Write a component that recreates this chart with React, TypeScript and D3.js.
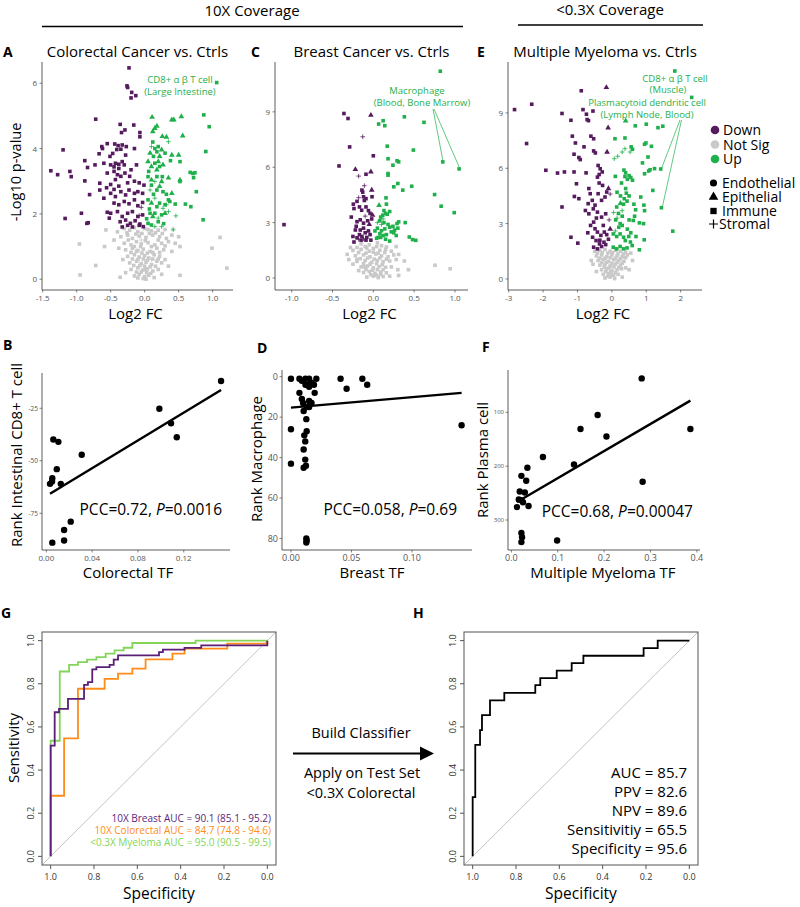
import React from 'react'
import * as d3 from 'd3'

const FONT = "'Open Sans', 'DejaVu Sans', sans-serif"
const DOWN = '#561a5e'
const UP = '#1fb04b'
const NS = '#c9c9c9'
const PURPLE = '#5b1f78'
const ORANGE = '#ff8c1a'
const LGREEN = '#83d55a'

// volcano points: [log2 FC, -log10 p, cell type]  s=immune t=epithelial p=stromal c=endothelial
const crcDown: any[] = [
  [-0.23,6.47],[-0.26,5.92],[-0.25,5.87],[-0.19,5.72],[-0.13,5.62],[-0.2,5.55],
  [-0.72,4.9],[-0.36,4.74],[-0.16,4.72],[-0.29,4.57],[-0.34,4.49],[-0.07,4.49],[-0.07,4.36],
  [-1.2,3.96],[-0.63,4.06],[-0.62,4.0],[-0.44,4.14],[-0.39,4.09],[-0.33,4.11],[-0.27,4.06],[-0.41,3.97],[-0.35,3.98],[-0.67,3.84],[-0.51,3.76],
  [-0.88,3.63],[-0.73,3.5],[-0.43,3.55],[-0.38,3.52],[-0.45,3.44],[-0.38,3.39],[-0.33,3.6],[-0.3,3.5],
  [-1.38,3.32],[-1.28,3.2],[-1.1,3.3],[-1.08,3.14],[-0.84,3.42],[-0.88,3.01],[-0.66,2.94],
  [-0.45,3.3],[-0.4,3.2],[-0.43,3.05],[-0.35,3.15],[-0.29,3.25],[-0.2,3.35],
  [-0.66,2.73],[-0.81,2.59],[-0.6,2.48],
  [-0.5,2.63],[-0.43,2.53],[-0.35,2.68],[-0.28,2.58],[-0.23,2.73],[-0.15,2.63],[-0.1,2.68],[-0.03,2.63],[-0.01,2.88],
  [-0.45,2.33],[-0.38,2.28],[-0.3,2.38],[-0.23,2.31],[-0.15,2.43],[-0.1,2.25],[-0.03,2.35],
  [-0.5,2.02],[-0.4,2.07],[-0.33,1.92],[-0.25,2.02],[-0.18,2.07],[-0.1,1.92],[-0.03,1.97],
  [-0.93,2.02],[-1.17,1.86],[-0.83,1.73],[-0.85,1.71],[-0.55,2.05],[-0.52,1.87],
  [-0.36,1.76],[-0.28,1.81],[-0.21,1.71],[-0.14,1.79],[-0.07,1.69],[-0.02,1.61],
  [-0.33,1.6],[-0.25,1.65],[-0.18,1.6],[-0.08,1.65],
  [-0.56,2.8],[-0.5,2.9],[-0.45,2.75],[-0.38,2.85],[-0.25,2.95],[-0.15,3.0],[-0.08,2.95],[-0.5,3.5],
  [-0.55,3.25],[-0.6,3.55],[-0.47,3.85],[-0.28,3.8],[-0.15,4.0],[-0.55,4.15],[-0.12,3.5],[-0.22,3.15],
  [-0.08,1.95,'p'],[-0.05,2.2,'p']
]
const crcUp: any[] = [
  [1.06,6.02],[0.87,5.03],[0.95,4.67],[0.54,4.98,'t'],[0.4,4.88,'t'],[0.43,4.88,'t'],[0.11,4.96,'t'],[0.56,4.39,'t'],
  [0.18,4.69,'t'],[0.15,4.62,'t'],[0.12,4.52,'t'],[0.26,4.37,'t'],[0.32,4.35,'t'],[0.35,4.21,'p'],[0.9,3.91],
  [0.1,4.06,'p'],[0.15,4.0],[0.2,4.06],[0.25,3.96,'t'],
  [0.08,3.86,'t'],[0.13,3.76],[0.18,3.9],[0.22,3.76,'t'],[0.3,3.86],
  [0.4,3.8,'t'],[0.5,3.8,'t'],[0.38,3.63],[0.52,3.6],
  [0.05,3.6,'t'],[0.1,3.45,'t'],[0.15,3.55],[0.18,3.35,'t'],[0.22,3.45],[0.27,3.5,'t'],
  [0.67,3.27],[0.71,3.24],[0.74,3.26],[0.72,3.11],[0.52,3.04,'t'],[0.52,2.99],
  [0.26,3.14],[0.25,2.99,'t'],[0.05,3.14],[0.1,3.04,'t'],[0.15,2.99,'p'],[0.18,3.14],
  [0.08,2.73,'p'],[0.1,2.88],[0.18,2.73],[0.22,2.84,'t'],[0.27,2.68],
  [0.76,2.68],[0.4,2.63,'t'],[0.35,2.43],[0.37,2.38],[0.32,2.28,'p'],
  [0.6,2.3],[0.68,2.22],
  [0.05,2.43],[0.1,2.33,'t'],[0.15,2.48,'p'],[0.18,2.22],[0.22,2.33],[0.27,2.17,'p'],[0.3,2.28],
  [0.08,2.02],[0.12,1.92,'t'],[0.15,2.02],[0.2,1.87,'p'],[0.25,1.97],[0.3,2.02,'t'],[0.35,2.07,'p'],
  [0.05,1.71],[0.1,1.66],[0.15,1.61,'p'],[0.2,1.76],[0.25,1.61,'p'],[0.28,1.7],
  [0.86,1.82],[0.46,1.94,'p'],[0.42,1.51,'p'],[0.03,1.85],[0.07,2.15],[0.13,2.6],[0.06,3.3],[0.2,3.6,'t'],
  [0.12,4.2],[0.35,3.1,'t'],[0.32,2.6],[0.45,2.3]
]
const crcNs: any[] = [
  [-0.3,1.55],[-0.22,1.5],[-0.1,1.45],[0.0,1.55],[0.1,1.48],[0.2,1.5],[0.3,1.52],[-0.15,1.58],[0.05,1.52],
  [-0.35,1.3],[-0.25,1.35],[-0.18,1.25],[-0.08,1.32],[0.02,1.28],[0.12,1.35],[0.22,1.3],[0.32,1.25],[0.4,1.35],
  [-0.3,1.1],[-0.2,1.05],[-0.12,1.15],[-0.05,1.08],[0.05,1.12],[0.15,1.05],[0.25,1.1],[0.35,1.15],
  [-0.28,0.9],[-0.18,0.95],[-0.1,0.88],[-0.02,0.92],[0.08,0.85],[0.18,0.95],[0.28,0.9],[0.4,0.85],
  [-0.25,0.7],[-0.15,0.75],[-0.08,0.68],[0.0,0.72],[0.06,0.65],[0.14,0.75],[0.22,0.7],
  [-0.22,0.5],[-0.12,0.55],[-0.05,0.48],[0.02,0.52],[0.1,0.45],[0.18,0.55],[0.25,0.5],
  [-0.2,0.3],[-0.1,0.35],[-0.03,0.28],[0.04,0.32],[0.12,0.25],[0.2,0.3],
  [-0.15,0.1],[-0.08,0.15],[0.0,0.08],[0.06,0.12],[0.14,0.05],[-0.02,0.02],[0.03,0.2],
  [-0.4,1.45],[-0.45,1.2],[-0.38,0.95],[0.45,1.1],[0.5,1.3],[-0.32,0.6],[0.3,0.6],[0.35,0.4],[-0.28,0.2],[0.25,0.15],
  [-0.57,1.51],[-0.96,1.08],[-0.59,1.0],[-0.72,0.42],[-0.95,0.13],[-0.36,0.06],[0.52,1.0],[0.52,0.12],
  [0.99,0.95],[1.11,1.28],[1.21,0.34],[0.42,1.55,'p'],[-0.05,1.2,'p'],[0.1,0.6,'p'],
  [-0.26,1.42],[-0.13,1.38],[-0.04,1.4],[0.07,1.4],[0.16,1.42],[0.26,1.4],
  [-0.24,1.2],[-0.15,1.0],[-0.06,1.0],[0.01,1.18],[0.1,1.0],[0.2,1.2],[0.3,1.02],
  [-0.2,0.82],[-0.12,0.85],[-0.04,0.8],[0.04,0.8],[0.12,0.82],[0.22,0.82],
  [-0.18,0.62],[-0.1,0.6],[-0.02,0.62],[0.04,0.58],[0.12,0.62],[0.2,0.62],
  [-0.16,0.42],[-0.07,0.42],[0.0,0.4],[0.08,0.38],[0.16,0.4],
  [-0.12,0.22],[-0.05,0.22],[0.01,0.3],[0.09,0.18],[-0.1,0.04],[0.02,0.0]
]

const brcaDown: any[] = [
  [-0.36,8.91],[-0.31,8.64],[-0.03,8.82,'t'],[-0.13,7.65,'p'],[-0.29,7.1],[0.0,6.62],[-0.42,6.07],[-0.22,5.88,'t'],
  [-0.18,5.52,'p'],[-0.09,5.62],[-0.03,5.75,'t'],[-0.14,4.76],[-0.13,4.65],[-0.12,4.4],[-0.09,4.3],[-0.11,4.2],
  [-0.18,4.35,'p'],[-0.02,4.76,'t'],[-0.016,4.4],[-0.245,4.0],[-0.237,3.76],[-0.17,3.85],[-0.143,3.67],[-0.09,3.85],
  [-0.06,3.65],[-0.04,3.5],[-0.2,3.05],[-0.16,3.15],[-0.12,2.97],[-0.07,3.1],[-0.02,3.2],[-1.094,2.89],
  [-0.16,2.6],[-0.12,2.7],[-0.17,2.35],[-0.14,2.25],[-0.1,2.45],[-0.06,2.55],[-0.08,2.2],[-0.04,2.35],
  [-0.237,1.95],[-0.2,2.18],[-0.15,2.05],[-0.12,2.12,'p'],[-0.18,2.1,'p'],[-0.25,2.25],[-0.22,2.6],[-0.03,2.05],
  [-0.05,2.9,'t'],[-0.01,3.4,'t'],[-0.1,3.35,'p'],[-0.2,4.15],[-0.27,3.3],[-0.11,5.0,'p'],[-0.21,2.8],[-0.09,2.05]
]
const brcaUp: any[] = [
  [0.82,11.2],[0.38,8.73],[0.62,8.43],[0.12,8.52],[0.065,8.34],[0.14,8.25],[0.17,7.14],[0.49,6.93],[0.18,6.46],
  [0.29,6.35],[0.31,6.29],[0.85,6.29],[0.24,6.11],[1.05,5.91],[0.18,5.66],[0.18,5.57],[0.3,5.12],[0.47,4.97],
  [0.25,4.94],[0.36,4.76],[0.75,4.52],[0.155,4.34],[0.16,4.0],[0.83,3.89],[0.07,3.94,'t'],
  [0.13,3.65],[0.15,3.5],[0.115,3.4],[0.09,3.3],[0.17,3.45],[0.2,3.6],
  [0.31,3.04],[0.29,2.95],[0.39,3.0],[0.99,3.54],
  [0.08,3.1],[0.13,3.0],[0.18,2.9],[0.2,2.75],[0.14,2.66],[0.1,2.56],[0.05,2.7],[0.02,2.55],
  [0.44,2.22],[0.48,2.08],[0.52,2.04],
  [0.08,2.4],[0.12,2.3],[0.06,2.2],[0.16,2.35],[0.22,2.5],[0.25,2.45],
  [0.04,2.15],[0.09,2.2],[0.15,2.1],[0.2,2.0],[0.28,2.3],[0.24,2.8],[0.26,2.6],[0.3,2.7],
  [0.1,2.9,'p'],[0.05,3.0,'p'],[0.12,3.2,'p']
]
const brcaNs: any[] = [
  [-0.15,1.85],[-0.05,1.8],[0.05,1.9],[0.1,1.75],[-0.1,1.7],
  [-0.25,1.5],[-0.15,1.55],[-0.05,1.45],[0.0,1.6],[0.08,1.5],[0.15,1.55],[0.22,1.45],
  [-0.22,1.2],[-0.12,1.25],[-0.04,1.15],[0.03,1.3],[0.1,1.2],[0.18,1.15],[0.25,1.25],
  [-0.2,0.9],[-0.1,0.95],[-0.02,0.85],[0.05,0.95],[0.12,0.88],[0.2,0.92],
  [-0.15,0.6],[-0.07,0.65],[0.0,0.55],[0.07,0.62],[0.15,0.58],[0.22,0.6],
  [-0.12,0.3],[-0.05,0.35],[0.02,0.25],[0.09,0.32],[0.16,0.28],
  [-0.08,0.05],[0.0,0.1],[0.06,0.02],[0.12,0.08],
  [-0.28,1.65],[0.28,1.7],[-0.3,1.0],[0.28,1.0],[-0.25,0.75],[0.3,0.45],[-0.18,0.4],
  [-0.32,1.28],[0.31,1.28],[0.38,0.92],[0.43,0.45],[0.755,0.69],[0.94,0.5],[0.31,0.14],[0.2,0.1],[-0.11,0.6],[-0.2,1.0],
  [-0.2,1.65],[-0.08,1.62],[0.04,1.7],[0.16,1.68],[-0.18,1.38],[-0.09,1.35],[0.0,1.4],[0.06,1.35],[0.14,1.38],
  [-0.16,1.05],[-0.07,1.08],[0.01,1.02],[0.08,1.08],[0.16,1.02],[-0.12,0.78],[-0.04,0.75],[0.04,0.78],[0.11,0.72],
  [-0.09,0.46],[-0.01,0.42],[0.05,0.46],[0.12,0.45],[-0.03,0.18],[0.04,0.15],[0.09,0.2]
]

const mmDown: any[] = [
  [-2.83,9.18],[-2.33,9.47],[-2.48,7.34],[-0.89,10.2],[-0.16,10.38,'t'],[-1.45,8.97],[-0.84,9.18],[-0.74,8.93],
  [-0.55,9.1],[-1.19,8.6],[-0.72,8.64],[-0.68,8.58],[-0.11,8.19,'t'],[-1.15,7.74],[-0.61,7.74],[-0.53,7.6],
  [-1.06,7.37],[-0.81,7.16],[-0.53,6.94],[-0.48,6.83],[-1.1,6.76],[-0.96,6.58],[-0.92,6.47],[-0.14,6.88,'t'],
  [-1.92,5.89],[-1.58,5.74],[-1.38,5.8],[-1.1,5.8],[-0.75,5.75],
  [-0.4,6.15],[-0.34,5.97],[-0.37,5.66],[-0.28,5.8],[-0.42,5.52],
  [-1.03,5.16],[-0.37,5.2],[-0.27,5.07],[-1.09,4.47],[-0.96,4.35],[-1.45,3.9],
  [-0.67,4.9],[-0.63,4.62],[-0.57,4.26],[-0.69,4.08],[-0.49,4.0],[-0.4,4.62],[-0.3,4.26],[-0.2,4.44],[-0.15,4.71],
  [-0.77,3.71],[-0.67,3.53],[-0.54,3.8],[-0.42,3.62],[-0.3,3.35],[-0.18,3.53],
  [-1.19,2.26],[-0.99,1.94],
  [-0.53,3.08],[-0.49,2.72],[-0.42,2.54],[-0.32,2.36],[-0.22,2.54],[-0.56,2.26],[-0.46,2.08],[-0.36,1.9],
  [-0.23,1.99],[-0.1,2.15],[-0.53,1.72],[-0.42,1.63],[-0.3,1.76],[-0.18,1.86],[-0.62,2.9],[-0.25,2.9],
  [-0.15,2.4],[-0.7,2.5],[-0.35,2.1],[-0.45,3.3],
  [-0.1,4.9,'t'],[-0.05,4.6,'p'],[-0.08,3.2,'p'],[-0.05,2.7,'t']
]
const mmUp: any[] = [
  [1.83,11.27],[2.32,9.84],[0.68,8.3],[1.0,8.39],[1.34,8.2],[1.48,8.28],[0.4,8.57,'t'],[0.09,7.6],[0.38,7.64],
  [0.95,7.3],[0.99,7.37],[1.15,7.19],[0.56,7.16],[0.6,7.03],[1.05,6.61],[0.89,6.29],[1.07,5.85],[1.11,5.92],
  [1.24,5.98],[1.42,5.96],[0.95,5.7],
  [0.35,5.9],[0.4,5.75],[0.5,5.6],[0.55,5.5],[0.45,5.4],[0.6,5.35],[0.38,5.55],
  [0.1,5.56],[1.19,4.8],[1.44,3.86],[0.84,4.44],
  [0.4,4.9],[0.42,4.65],[0.36,4.35],[0.44,4.22],[0.34,4.05],
  [0.64,4.05],[0.69,3.75],[0.66,3.4],[0.62,3.17],[0.93,4.0],[0.95,3.7],
  [0.14,3.9],[0.19,3.55],[0.11,3.2],[0.24,3.0],[0.8,3.04],[0.92,3.0],[1.77,2.59],
  [0.04,2.44],[0.14,2.3],[0.24,2.44],[0.34,2.26],[0.39,2.08],[0.49,2.3],[0.54,2.0],[0.94,2.12],[0.8,1.58],
  [0.04,1.72],[0.14,1.63],[0.24,1.76],[0.34,1.63],[0.44,1.68],[0.59,1.81],
  [0.2,2.8],[0.3,2.9],[0.45,2.7],[0.5,3.2],[0.3,3.4],[0.55,2.5],[0.7,2.3],[0.25,4.5],[0.5,4.5],[0.15,4.7],[0.28,5.2],
  [0.07,6.52,'p'],[0.17,6.65,'p'],[0.3,6.88,'p'],[0.53,6.88,'p'],[0.38,7.06,'p'],
  [0.05,3.6,'p'],[0.15,3.3,'p'],[0.1,2.6,'p'],[0.3,3.7,'p'],[0.25,4.1,'t']
]
const mmNs: any[] = [
  [-0.5,1.5],[-0.35,1.55],[-0.2,1.6],[-0.05,1.5],[0.1,1.55],[0.25,1.5],[0.4,1.45],[0.55,1.4],
  [-0.45,1.25],[-0.3,1.3],[-0.15,1.2],[0.0,1.3],[0.15,1.25],[0.3,1.2],[0.45,1.3],
  [-0.4,1.0],[-0.25,1.05],[-0.1,0.95],[0.05,1.05],[0.2,1.0],[0.35,0.95],[0.5,0.5],
  [-0.35,0.75],[-0.2,0.8],[-0.05,0.7],[0.1,0.8],[0.25,0.75],
  [-0.3,0.5],[-0.15,0.55],[0.0,0.45],[0.15,0.5],[0.28,0.55],
  [-0.25,0.25],[-0.1,0.3],[0.05,0.2],[0.18,0.25],
  [-0.2,0.05],[-0.05,0.1],[0.08,0.02],
  [-0.6,1.0],[0.6,1.0],[-0.55,0.8],[0.4,0.6],[-0.45,0.4],[0.3,0.1],
  [-0.42,1.4],[-0.28,1.42],[-0.12,1.4],[0.02,1.42],[0.18,1.38],[0.33,1.35],
  [-0.35,1.12],[-0.2,1.12],[-0.05,1.15],[0.1,1.12],[0.25,1.1],[0.4,1.15],
  [-0.3,0.88],[-0.15,0.9],[0.0,0.85],[0.15,0.9],[0.3,0.85],
  [-0.22,0.65],[-0.08,0.6],[0.06,0.65],[0.2,0.62],[-0.18,0.4],[-0.03,0.38],[0.1,0.35],[-0.12,0.15],[0.0,0.22]
]

// TF vs rank scatter
const crcTF = [0.1526,0.0987,0.1089,0.1139,0.0061,0.0105,0.0309,0.0091,0.0052,0.005,0.0032,0.0126,0.0213,0.0155,0.0155,0.0052]
const crcRank = [-12,-25.2,-32.1,-38.8,-39.9,-41,-47.1,-54,-58.3,-59.9,-61,-61,-79,-83,-88,-89]
const crcFit = [-66.8, 330.7] // intercept, slope

const brcaTF = [0,0,0,0.007,0.009,0.012,0.015,0.016,0.017,0.019,0.015,0.012,0.021,0.0196,0.007,0.009,0.01,0.015,0.016,0.017,
  0.015,0.0105,0.013,0.0127,0.013,0.011,0.0118,0.0105,0.0118,0.0124,0.0105,0.0127,0.013,0.0127,0.041,0.046,0.059,0.063,0.141]
const brcaRank = [1,26,43,1,2,1,1,3,3,4,5,4,1,8,8,11,13,12,13,13,15,17,15,21,27,29,32,36,41,44,45,80,81,82,1,6,1,4,24]
const brcaFit = [15.3, -51.8]

const mmTF = [0.281,0.186,0.149,0.386,0.205,0.068,0.135,0.0345,0.0216,0.032,0.283,0.018,0.029,0.0216,0.025,0.012,0.037,0.0216,0.023,0.0216,0.0986,0.016]
const mmRank = [37,105,131,131,145,183,197,203,218,227,229,247,249,263,267,276,274,324,332,341,338,262]
const mmFit = [272.6, -503.3]

// ROC curves (specificity, sensitivity)
const breastSpec = [1,1,0.9815,0.9615,0.92,0.846,0.828,0.808,0.789,0.728,0.709,0.689,0.5,0.482,0.382,0.305,0]
const breastSens = [0,0.513,0.668,0.684,0.73,0.795,0.808,0.867,0.877,0.888,0.912,0.932,0.947,0.958,0.966,0.978,1]
const crcSpec = [1,1,0.938,0.874,0.751,0.689,0.623,0.562,0.438,0.382,0.185,0]
const crcSens = [0,0.281,0.547,0.777,0.823,0.847,0.87,0.913,0.94,0.963,0.986,1]
const mmSpec = [1,1,0.958,0.915,0.874,0.832,0.789,0.746,0.705,0.663,0.623,0.331,0]
const mmSens = [0,0.536,0.857,0.888,0.9,0.912,0.924,0.94,0.955,0.967,0.989,1,1]
const testSpec = [1,1,0.988,0.966,0.957,0.92,0.854,0.711,0.688,0.612,0.543,0.489,0.211,0.146,0]
const testSens = [0,0.275,0.517,0.585,0.655,0.723,0.758,0.794,0.826,0.861,0.896,0.93,0.965,1,1]

const rocLegend = ['10X Breast AUC = 90.1 (85.1 - 95.2)', '10X Colorectal AUC = 84.7 (74.8 - 94.6)', '<0.3X Myeloma AUC = 95.0 (90.5 - 99.5)']
const testStats = ['AUC = 85.7', 'PPV = 82.6', 'NPV = 89.6', 'Sensitivitiy = 65.5', 'Specificity = 95.6']

const sigGroups = ['Down', 'Not Sig', 'Up']
const cellTypes = ['Endothelial', 'Epithelial', 'Immune', 'Stromal']

function Mark({ x, y, shape, color }: any) {
  if (shape === 'p') {
    return <path d={`M${x - 2.3},${y}H${x + 2.3}M${x},${y - 2.3}V${y + 2.3}`} stroke={color} strokeWidth={0.8} fill="none" />
  }
  const type = shape === 't' ? d3.symbolTriangle : shape === 'c' ? d3.symbolCircle : d3.symbolSquare
  const size = shape === 't' ? 14 : 13
  return <path transform={`translate(${x},${y})`} d={d3.symbol().type(type).size(size)() as string} fill={color} />
}

function Volcano(p: any) {
  const x = d3.scaleLinear().domain(p.xDomain).range([p.left, p.right])
  const y = d3.scaleLinear().domain(p.yDomain).range([p.bottom, p.top])
  const groups = [[p.ns, NS], [p.down, DOWN], [p.up, UP]]
  return (
    <g fontFamily={FONT}>
      <text x={p.letterX} y={57} fontSize={14} fontWeight="bold">{p.letter}</text>
      <text x={(p.left + p.right) / 2} y={57} fontSize={15} textAnchor="middle">{p.title}</text>
      {groups.map(([pts, col]: any, gi) =>
        pts.map((d: any, i: number) => <Mark key={gi + '-' + i} x={x(d[0])} y={y(d[1])} shape={d[2] || 's'} color={col} />))}
      <line x1={p.left} x2={p.left} y1={p.top} y2={p.bottom} stroke="#333" strokeWidth={0.8} />
      <line x1={p.left} x2={p.right} y1={p.bottom} y2={p.bottom} stroke="#333" strokeWidth={0.8} />
      {p.xTicks.map((t: number) => (
        <g key={'x' + t}>
          <line x1={x(t)} x2={x(t)} y1={p.bottom} y2={p.bottom + 2.5} stroke="#333" strokeWidth={0.6} />
          <text x={x(t)} y={p.bottom + 11} fontSize={8} fill="#555" textAnchor="middle">{t.toFixed(p.xDec)}</text>
        </g>
      ))}
      {p.yTicks.map((t: number) => (
        <g key={'y' + t}>
          <line x1={p.left - 2.5} x2={p.left} y1={y(t)} y2={y(t)} stroke="#333" strokeWidth={0.6} />
          <text x={p.left - 5} y={y(t) + 3} fontSize={8} fill="#555" textAnchor="end">{t}</text>
        </g>
      ))}
      <text x={(p.left + p.right) / 2 - 2} y={319} fontSize={15} textAnchor="middle">Log2 FC</text>
      {p.yLabel && (
        <text transform={`translate(21,${(p.top + p.bottom) / 2 - 4}) rotate(-90)`} fontSize={14.5} textAnchor="middle">{p.yLabel}</text>
      )}
      {p.notes && p.notes(x, y)}
    </g>
  )
}

function Scatter(p: any) {
  const x = d3.scaleLinear().domain(p.xDomain).range([p.left, p.right])
  const y = d3.scaleLinear().domain(p.yDomain).range(p.flip ? [p.top, p.bottom] : [p.bottom, p.top])
  const ext = d3.extent(p.tf) as [number, number]
  const fitLine = d3.line<number>().x(v => x(v)).y(v => y(p.fit[0] + p.fit[1] * v))
  return (
    <g fontFamily={FONT}>
      <text x={p.letterX} y={p.letterY} fontSize={14} fontWeight="bold">{p.letter}</text>
      <line x1={p.left} x2={p.left} y1={p.top} y2={p.bottom} stroke="#333" strokeWidth={0.8} />
      <line x1={p.left} x2={p.right} y1={p.bottom} y2={p.bottom} stroke="#333" strokeWidth={0.8} />
      {p.xTicks.map((t: number) => (
        <g key={'x' + t}>
          <line x1={x(t)} x2={x(t)} y1={p.bottom} y2={p.bottom + 2.5} stroke="#333" strokeWidth={0.6} />
          <text x={x(t)} y={p.bottom + 11} fontSize={p.xFont} fill="#555" textAnchor="middle">{t.toFixed(p.xDec)}</text>
        </g>
      ))}
      {p.yTicks.map((t: number) => (
        <g key={'y' + t}>
          <line x1={p.left - 2.5} x2={p.left} y1={y(t)} y2={y(t)} stroke="#333" strokeWidth={0.6} />
          <text x={p.left - 4} y={y(t) + p.yFont * 0.35} fontSize={p.yFont} fill="#555" textAnchor="end">{t}</text>
        </g>
      ))}
      {p.tf.map((v: number, i: number) => <circle key={i} cx={x(v)} cy={y(p.rank[i])} r={3.2} fill="#000" />)}
      <path d={fitLine(ext) as string} stroke="#000" strokeWidth={2.4} fill="none" />
      <text x={p.pccX} y={p.pccY} fontSize={15.5} textAnchor="end">
        {p.pcc[0]}<tspan fontStyle="italic">P</tspan>{p.pcc[1]}
      </text>
      <text x={p.xLabelX} y={578} fontSize={15} textAnchor="middle">{p.xLabel}</text>
      <text transform={`translate(${p.yLabelX},${p.yLabelY}) rotate(-90)`} fontSize={15} textAnchor="middle">{p.yLabel}</text>
    </g>
  )
}

function Roc(p: any) {
  const x = d3.scaleLinear().domain([1.04, -0.04]).range([p.left, p.right])
  const y = d3.scaleLinear().domain([-0.04, 1.04]).range([865, 632])
  const ticks = [1, 0.8, 0.6, 0.4, 0.2, 0]
  const path = (spec: number[], sens: number[]) =>
    d3.line<number>().x(i => x(spec[i])).y(i => y(sens[i])).curve(d3.curveStepAfter)(d3.range(spec.length)) as string
  return (
    <g fontFamily={FONT}>
      <text x={p.letterX} y={618} fontSize={14} fontWeight="bold">{p.letter}</text>
      <line x1={x(1.04)} y1={y(-0.04)} x2={x(-0.04)} y2={y(1.04)} stroke="#bdbdbd" strokeWidth={0.9} />
      {p.curves.map((c: any, i: number) => (
        <path key={i} d={path(c[0], c[1])} stroke={c[2]} strokeWidth={1.8} fill="none" />
      ))}
      <rect x={p.left} y={632} width={p.right - p.left} height={233} fill="none" stroke="#555" strokeWidth={1} />
      {ticks.map(t => (
        <g key={'x' + t}>
          <line x1={x(t)} x2={x(t)} y1={865} y2={869} stroke="#555" />
          <text x={x(t)} y={880} fontSize={9} fill="#333" textAnchor="middle">{t.toFixed(1)}</text>
          <line x1={p.left - 4} x2={p.left} y1={y(t)} y2={y(t)} stroke="#555" />
          <text transform={`translate(${p.left - 8},${y(t)}) rotate(-90)`} fontSize={9} fill="#333" textAnchor="middle">{t.toFixed(1)}</text>
        </g>
      ))}
      <text x={(p.left + p.right) / 2} y={899} fontSize={15.5} textAnchor="middle">Specificity</text>
      {p.yLabel && <text transform={`translate(19,748) rotate(-90)`} fontSize={15} textAnchor="middle">{p.yLabel}</text>}
      {p.children}
    </g>
  )
}

export default function App() {
  const legendY = [130, 144.5, 159]
  const legendCol = [DOWN, NS, UP]
  const shapeY = [183, 197, 211, 224]
  return (
    <svg width={800} height={907} style={{ position: 'absolute', left: 0, top: 0, background: '#fff' }} fontFamily={FONT}>
      <rect width={800} height={907} fill="#fff" />
      {/* coverage headers */}
      <text x={252} y={16} fontSize={15} textAnchor="middle">10X Coverage</text>
      <line x1={42} x2={463} y1={26.5} y2={26.5} stroke="#000" strokeWidth={1.5} />
      <text x={610} y={15} fontSize={15} textAnchor="middle">{'<0.3X Coverage'}</text>
      <line x1={518} x2={703} y1={25} y2={25} stroke="#000" strokeWidth={1.5} />

      <Volcano letter="A" letterX={3} title="Colorectal Cancer vs. Ctrls" left={42} right={233} top={62} bottom={290}
        xDomain={[-1.51, 1.3]} yDomain={[-0.33, 6.65]} xTicks={[-1.5, -1, -0.5, 0, 0.5, 1]} xDec={1} yTicks={[0, 2, 4, 6]}
        down={crcDown} up={crcUp} ns={crcNs} yLabel="-Log10 p-value"
        notes={() => (
          <g fill={UP} fontSize={9.5} textAnchor="middle">
            <text x={180} y={83}>CD8+ α β T cell</text>
            <text x={180} y={95}>(Large Intestine)</text>
          </g>
        )} />
      <Volcano letter="C" letterX={251} title="Breast Cancer vs. Ctrls" left={275} right={468} top={62} bottom={290}
        xDomain={[-1.204, 1.159]} yDomain={[-0.65, 11.7]} xTicks={[-1, -0.5, 0, 0.5, 1]} xDec={1} yTicks={[0, 3, 6, 9]}
        down={brcaDown} up={brcaUp} ns={brcaNs}
        notes={(x: any, y: any) => (
          <g>
            <g fill={UP} fontSize={9.5} textAnchor="middle">
              <text x={417} y={94}>Macrophage</text>
              <text x={422} y={106}>(Blood, Bone Marrow)</text>
            </g>
            <line x1={433} y1={109} x2={x(0.85)} y2={y(6.29) - 2} stroke={UP} strokeWidth={0.7} />
            <line x1={434} y1={109} x2={x(1.05)} y2={y(5.91) - 2} stroke={UP} strokeWidth={0.7} />
          </g>
        )} />
      <Volcano letter="E" letterX={477} title="Multiple Myeloma vs. Ctrls" left={508} right={702} top={62} bottom={290}
        xDomain={[-3.02, 2.62]} yDomain={[-0.6, 11.76]} xTicks={[-3, -2, -1, 0, 1, 2]} xDec={0} yTicks={[0, 3, 6, 9]}
        down={mmDown} up={mmUp} ns={mmNs}
        notes={(x: any, y: any) => (
          <g>
            <g fill={UP} fontSize={9.5} textAnchor="middle">
              <text x={675} y={82}>CD8+ α β T cell</text>
              <text x={668} y={93}>(Muscle)</text>
              <text x={647} y={106}>Plasmacytoid dendritic cell</text>
              <text x={647} y={118}>(Lymph Node, Blood)</text>
            </g>
            <line x1={680} y1={120} x2={x(1.42) + 1} y2={y(5.96) - 1} stroke={UP} strokeWidth={0.7} />
            <line x1={681.5} y1={120} x2={x(1.44) + 1} y2={y(3.86) - 1} stroke={UP} strokeWidth={0.7} />
          </g>
        )} />

      {/* legend */}
      <g fontFamily={FONT} fontSize={14}>
        {sigGroups.map((g, i) => (
          <g key={g}>
            <circle cx={715} cy={legendY[i]} r={4.3} fill={legendCol[i]} />
            <text x={723} y={legendY[i] + 5}>{g}</text>
          </g>
        ))}
        {cellTypes.map((c, i) => {
          const cy = shapeY[i]
          const mark = i === 3
            ? <path d={`M${709},${cy}H${718}M${713.5},${cy - 4.5}V${cy + 4.5}`} stroke="#000" strokeWidth={1.2} />
            : <path transform={`translate(713.5,${cy})`} d={d3.symbol().type([d3.symbolCircle, d3.symbolTriangle, d3.symbolSquare][i]).size(40)() as string} fill="#000" />
          return (
            <g key={c}>
              {mark}
              <text x={i === 3 ? 719 : 722} y={cy + 5}>{c}</text>
            </g>
          )
        })}
      </g>

      <Scatter letter="B" letterX={3} letterY={350} left={42} right={230} top={373} bottom={550}
        xDomain={[-0.0038, 0.1604]} yDomain={[-92.5, -8.2]} xTicks={[0, 0.04, 0.08, 0.12]} xDec={2} xFont={8}
        yTicks={[-25, -50, -75]} yFont={6.5} tf={crcTF} rank={crcRank} fit={crcFit}
        pcc={['PCC=0.72, ', '=0.0016']} pccX={222} pccY={515} xLabel="Colorectal TF" xLabelX={128}
        yLabel="Rank Intestinal CD8+ T cell" yLabelX={22} yLabelY={455} />
      <Scatter letter="D" letterX={257} letterY={353} left={282} right={472} top={370} bottom={550} flip
        xDomain={[-0.0074, 0.1496]} yDomain={[-3.3, 85.7]} xTicks={[0, 0.05, 0.1]} xDec={2} xFont={9}
        yTicks={[0, 20, 40, 60, 80]} yFont={9} tf={brcaTF} rank={brcaRank} fit={brcaFit}
        pcc={['PCC=0.058, ', '=0.69']} pccX={457} pccY={515} xLabel="Breast TF" xLabelX={372}
        yLabel="Rank Macrophage" yLabelX={262} yLabelY={459} />
      <Scatter letter="F" letterX={482} letterY={352} left={508} right={700} top={370} bottom={550} flip
        xDomain={[-0.0073, 0.4067]} yDomain={[21.4, 355.7]} xTicks={[0, 0.1, 0.2, 0.3, 0.4]} xDec={1} xFont={9}
        yTicks={[100, 200, 300]} yFont={6} tf={mmTF} rank={mmRank} fit={mmFit}
        pcc={['PCC=0.68, ', '=0.00047']} pccX={693} pccY={517} xLabel="Multiple Myeloma TF" xLabelX={603}
        yLabel="Rank Plasma cell" yLabelX={488} yLabelY={460} />

      <Roc letter="G" letterX={1} left={42} right={276} yLabel="Sensitivity"
        curves={[[mmSpec, mmSens, LGREEN], [crcSpec, crcSens, ORANGE], [breastSpec, breastSens, PURPLE]]}>
        <g fontSize={10} textAnchor="end">
          {rocLegend.map((t, i) => (
            <text key={t} x={271} y={822 + i * 12.2} fill={[PURPLE, ORANGE, LGREEN][i]}>{t}</text>
          ))}
        </g>
      </Roc>
      <Roc letter="H" letterX={413} left={464} right={698}
        curves={[[testSpec, testSens, '#000']]}>
        <g fontSize={15} textAnchor="end">
          {testStats.map((t, i) => <text key={t} x={687} y={778 + i * 19}>{t}</text>)}
        </g>
      </Roc>

      {/* classifier arrow */}
      <g fontFamily={FONT} fontSize={14.5} textAnchor="middle">
        <text x={361} y={738}>Build Classifier</text>
        <line x1={293} x2={422} y1={753.5} y2={753.5} stroke="#000" strokeWidth={2} />
        <path d="M420,746.5L434,753.5L420,760.5Z" fill="#000" />
        <text x={362} y={778}>Apply on Test Set</text>
        <text x={361} y={798}>{'<0.3X Colorectal'}</text>
      </g>
    </svg>
  )
}
